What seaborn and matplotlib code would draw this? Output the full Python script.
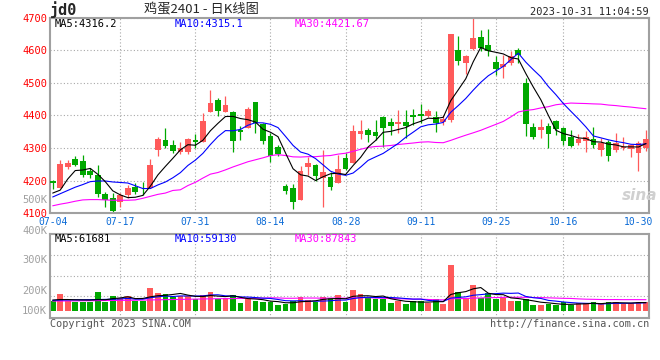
import numpy as np
import pandas as pd
import matplotlib
matplotlib.use("Agg")
import matplotlib.pyplot as plt
import seaborn as sns

# 鸡蛋2401 日K, 2023-07-04 .. 2023-10-31 (80 trading days)
opens = [4198, 4178, 4243, 4265, 4260, 4230, 4217, 4160, 4148, 4135,
         4155, 4181, 4172, 4176, 4294, 4325, 4309, 4287, 4289, 4324,
         4319, 4409, 4448, 4410, 4409, 4355, 4360, 4441, 4373, 4337,
         4302, 4183, 4179, 4140, 4242, 4248, 4207, 4210, 4193, 4268,
         4254, 4343, 4355, 4348, 4396, 4381, 4374, 4381, 4400, 4405,
         4399, 4396, 4381, 4386, 4599, 4561, 4602, 4641, 4617, 4564,
         4547, 4562, 4601, 4499, 4364, 4355, 4368, 4383, 4360, 4335,
         4314, 4322, 4327, 4294, 4319, 4294, 4299, 4296, 4286, 4299]
highs = [4201, 4263, 4263, 4276, 4278, 4240, 4248, 4166, 4162, 4162,
         4188, 4192, 4196, 4265, 4335, 4360, 4325, 4317, 4330, 4343,
         4407, 4478, 4452, 4458, 4412, 4368, 4425, 4441, 4376, 4345,
         4310, 4191, 4191, 4245, 4273, 4250, 4294, 4227, 4278, 4284,
         4371, 4386, 4362, 4386, 4398, 4391, 4417, 4417, 4420, 4434,
         4420, 4412, 4402, 4648, 4643, 4585, 4699, 4661, 4666, 4581,
         4586, 4596, 4607, 4516, 4376, 4389, 4376, 4385, 4365, 4355,
         4343, 4353, 4365, 4330, 4325, 4347, 4335, 4310, 4322, 4355]
lows = [4175, 4178, 4235, 4245, 4212, 4208, 4150, 4118, 4105, 4120,
        4148, 4160, 4155, 4176, 4275, 4300, 4284, 4282, 4282, 4301,
        4319, 4409, 4398, 4410, 4289, 4325, 4360, 4345, 4312, 4258,
        4276, 4158, 4114, 4140, 4217, 4200, 4119, 4171, 4193, 4232,
        4254, 4328, 4317, 4325, 4304, 4340, 4345, 4330, 4371, 4376,
        4396, 4348, 4371, 4380, 4555, 4528, 4600, 4596, 4581, 4525,
        4516, 4555, 4560, 4338, 4328, 4332, 4299, 4340, 4309, 4302,
        4309, 4289, 4299, 4275, 4261, 4289, 4294, 4271, 4230, 4292]
closes = [4193, 4250, 4255, 4248, 4217, 4218, 4160, 4142, 4107, 4155,
          4176, 4166, 4170, 4248, 4327, 4307, 4291, 4299, 4327, 4319,
          4383, 4437, 4412, 4432, 4321, 4350, 4419, 4376, 4322, 4275,
          4282, 4169, 4135, 4229, 4255, 4214, 4227, 4181, 4237, 4235,
          4352, 4352, 4340, 4337, 4360, 4366, 4381, 4369, 4394, 4399,
          4414, 4376, 4388, 4648, 4566, 4583, 4638, 4607, 4596, 4543,
          4558, 4581, 4586, 4373, 4335, 4364, 4342, 4358, 4322, 4306,
          4327, 4333, 4309, 4316, 4275, 4314, 4304, 4309, 4314, 4328]
# volume, thousands of lots
volumes = [73, 124, 73, 68, 68, 68, 139, 68, 110, 93,
           110, 73, 73, 170, 134, 124, 104, 110, 110, 88,
           117, 141, 88, 93, 117, 61, 95, 73, 68, 64,
           44, 53, 73, 104, 80, 64, 104, 95, 117, 68,
           153, 124, 95, 88, 88, 56, 73, 51, 73, 73,
           56, 88, 51, 336, 137, 97, 190, 97, 129, 88,
           93, 73, 73, 88, 44, 44, 49, 44, 64, 44,
           56, 56, 64, 49, 68, 68, 49, 56, 68, 68]

# moving average values before the window is full
ma5_head = [4162, 4171, 4205, 4231]
ma10_head = [4150, 4160, 4170, 4180, 4188, 4197, 4199, 4199, 4196]
ma30_head = [4123, 4128, 4132, 4137, 4141, 4142, 4142, 4141, 4140, 4140,
             4140, 4141, 4146, 4152, 4158, 4162, 4170, 4172, 4185, 4195,
             4208, 4220, 4225, 4233, 4242, 4250, 4258, 4264, 4270]
vol_ma5_head = [80, 84, 84, 82]
vol_ma10_head = [78, 80, 81, 82, 82, 83, 84, 85, 86]
vol_ma30_head = [73, 73, 74, 74, 75, 75, 76, 77, 77, 78,
                 78, 79, 80, 81, 82, 83, 84, 85, 86, 87,
                 88, 89, 90, 90, 91, 92, 93, 93, 94]

tick_pos = [0, 9, 19, 29, 39, 49, 59, 68, 78]
tick_labels = ["07-04", "07-17", "07-31", "08-14", "08-28",
               "09-11", "09-25", "10-16", "10-30"]
price_ticks = [4100, 4200, 4300, 4400, 4500, 4600, 4700]
vol_labels = ["500K", "400K", "300K", "200K", "100K"]


def moving(values, n, head):
    s = pd.Series(values, dtype=float).rolling(n).mean()
    s.iloc[:n - 1] = head
    return s.values


idx = np.arange(len(closes))
up_col = "#ff5a5a"
down_col = "#00a800"
o = np.array(opens); c = np.array(closes)
is_up = c >= o
cols = [up_col if u else down_col for u in is_up]

ma5 = moving(closes, 5, ma5_head)
ma10 = moving(closes, 10, ma10_head)
ma30 = moving(closes, 30, ma30_head)
vma5 = moving(volumes, 5, vol_ma5_head)
vma10 = moving(volumes, 10, vol_ma10_head)
vma30 = moving(volumes, 30, vol_ma30_head)

sns.set_style("white")
plt.rcParams["font.family"] = ["DejaVu Sans Mono"]
mono = "DejaVu Sans Mono"

W, H = 660, 360
px = lambda x: x / W
py = lambda y: 1 - y / H

fig = plt.figure(figsize=(6.6, 3.6), dpi=100)
ax = fig.add_axes([px(50), py(213.3), px(599), (213.3 - 17.5) / H])
ax2 = fig.add_axes([px(50), py(318.3), px(599), (318.3 - 234.3) / H])

grid_kw = dict(color="#a8a8a8", lw=0.8, ls=(0, (1, 2)))

# candles
ax.vlines(idx, lows, highs, colors=cols, lw=0.9, zorder=2)
body_lo = np.minimum(o, c)
body_h = np.maximum(np.abs(c - o), 2.5)
ax.bar(idx, body_h, bottom=body_lo, width=0.76, color=cols, linewidth=0, zorder=3)

for ma, colr in [(ma30, "#ff00ff"), (ma10, "#0000ff"), (ma5, "black")]:
    sns.lineplot(x=idx, y=ma, ax=ax, color=colr, lw=0.8, zorder=4)

ax.set_xlim(-0.36, 79.4)
ax.set_ylim(4100, 4700)
ax.set_yticks(price_ticks)
ax.yaxis.grid(True, **grid_kw)
for p in tick_pos[1:-1]:
    ax.axvline(p, zorder=0, **grid_kw)
ax.set_xticks(tick_pos, tick_labels)
ax.tick_params(axis="x", length=0, pad=3, labelsize=7, labelcolor="#0a6ad6")
ax.tick_params(axis="y", length=0, pad=2, labelsize=7.5, labelcolor="#ff0000")
ax.set_xlabel("")
ax.set_ylabel("")

# volume
vol_df = pd.DataFrame({"idx": idx, "vol": volumes,
                       "dir": ["up" if u else "down" for u in is_up]})
sns.barplot(data=vol_df, x="idx", y="vol", hue="dir",
            palette={"up": up_col, "down": down_col}, native_scale=True,
            dodge=False, width=0.76, saturation=1, errorbar=None,
            legend=False, ax=ax2, linewidth=0, zorder=2)
for ma, colr in [(vma30, "#ff00ff"), (vma10, "#0000ff"), (vma5, "black")]:
    sns.lineplot(x=idx, y=ma, ax=ax2, color=colr, lw=0.8, zorder=4)
ax2.set_xlim(-0.36, 79.4)
ax2.set_ylim(-53, 560)
ax2.set_yticks([112, 258, 407])
ax2.yaxis.grid(True, **grid_kw)
for p in tick_pos[1:-1]:
    ax2.axvline(p, zorder=0, **grid_kw)
ax2.set_xticks([])
ax2.set_yticklabels([])
ax2.tick_params(length=0)
ax2.set_xlabel("")
ax2.set_ylabel("")

for a in (ax, ax2):
    for s in a.spines.values():
        s.set_color("#a0a0a0")
        s.set_linewidth(1.5)

# volume axis labels (as drawn by the source chart)
for lab, yy in zip(vol_labels, [200, 231, 260, 291, 311]):
    fig.text(px(47), py(yy), lab, ha="right", va="center", fontsize=7.5,
             color="#a0a0a0", family=mono)

# header
fig.text(px(50), py(10), "jd0", ha="left", va="center", fontsize=11,
         fontweight="bold", family=mono)
fig.text(px(201), py(10), "鸡蛋2401 - 日K线图", ha="center", va="center",
         fontsize=9.5, family=["Noto Sans CJK SC", "DejaVu Sans"])
fig.text(px(649), py(12), "2023-10-31 11:04:59", ha="right", va="center",
         fontsize=7.5, family=mono)

# MA captions
for txt, xx, colr in [("MA5:4316.2", 55, "black"), ("MA10:4315.1", 175, "#0000ff"),
                      ("MA30:4421.67", 295, "#ff00ff")]:
    fig.text(px(xx), py(24), txt, ha="left", va="center", fontsize=7.5,
             color=colr, family=mono)
for txt, xx, colr in [("MA5:61681", 55, "black"), ("MA10:59130", 175, "#0000ff"),
                      ("MA30:87843", 295, "#ff00ff")]:
    fig.text(px(xx), py(239), txt, ha="left", va="center", fontsize=7.5,
             color=colr, family=mono)

fig.text(px(640), py(196), "sina", ha="center", va="center", fontsize=11,
         style="italic", fontweight="bold", color="#d0d0d0", family="DejaVu Sans")

fig.text(px(50), py(324), "Copyright 2023 SINA.COM", ha="left", va="center",
         fontsize=7.3, color="#555555", family=mono)
fig.text(px(649), py(324), "http://finance.sina.com.cn", ha="right", va="center",
         fontsize=7.3, color="#555555", family=mono)

fig.savefig("out.png", dpi=100, facecolor="white")
